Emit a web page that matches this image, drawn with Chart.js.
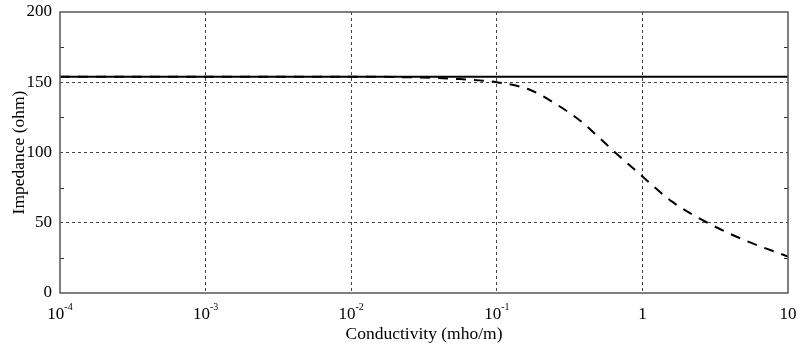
<!DOCTYPE html>
<html>
<head>
<meta charset="utf-8">
<script src="https://cdn.jsdelivr.net/npm/chart.js@4"></script>
<style>
  html, body { margin: 0; padding: 0; background: #fff; }
  #wrap { width: 798px; height: 349px; }
</style>
</head>
<body>
<div id="wrap"><canvas id="impChart" width="798" height="349"></canvas></div>
<script>
// data
const xTicks = [1e-4, 1e-3, 1e-2, 1e-1, 1, 10];
const xTickBase = ['10', '10', '10', '10', '1', '10'];
const xTickExp = ['-4', '-3', '-2', '-1', '', ''];
const yMajorTicks = [0, 50, 100, 150, 200];
const yMinorTicks = [25, 75, 125, 175];

const conductivity = [1e-4, 1e-3, 1e-2, 0.02, 0.05, 0.1, 0.17, 0.25, 0.37, 0.5, 0.65, 1, 1.6, 2.8, 5.2, 10];
const impedanceDashed = [154, 154, 154, 153.7, 152.5, 150, 144.5, 135, 123, 111, 100, 83, 65, 50, 37, 26];
const solidX = [1e-4, 10];
const solidY = [154, 154];

const FONT = 'Liberation Serif, Times New Roman, serif';

const framePlugin = {
    id: 'frame',
    afterDraw(chart) {
        const c = chart.ctx;
        const a = chart.chartArea;
        const xs = chart.scales.x, ys = chart.scales.y;
        c.save();
        // minor y tick marks, inside on both sides
        c.strokeStyle = '#333';
        c.lineWidth = 1;
        yMinorTicks.forEach(v => {
            const y = Math.round(ys.getPixelForValue(v)) + 0.5;
            c.beginPath();
            c.moveTo(a.left, y); c.lineTo(a.left + 4, y);
            c.moveTo(a.right, y); c.lineTo(a.right - 4, y);
            c.stroke();
        });
        // frame
        c.strokeStyle = '#555';
        c.lineWidth = 1.5;
        c.strokeRect(a.left, a.top, a.right - a.left, a.bottom - a.top);
        // x tick labels with superscripts
        c.fillStyle = '#000';
        c.textBaseline = 'alphabetic';
        xTicks.forEach((v, i) => {
            const x = xs.getPixelForValue(v);
            const base = xTickBase[i], exp = xTickExp[i];
            c.font = '17px ' + FONT;
            const wb = c.measureText(base).width;
            c.font = '10px ' + FONT;
            const we = exp ? c.measureText(exp).width : 0;
            let x0 = x - (wb + we) / 2;
            if (i === xTicks.length - 1) x0 = Math.min(x0, 798 - wb - 1);
            c.font = '17px ' + FONT;
            c.textAlign = 'left';
            c.fillText(base, x0, a.bottom + 26);
            if (exp) {
                c.font = '10px ' + FONT;
                c.fillText(exp, x0 + wb, a.bottom + 17);
            }
        });
        c.restore();
    }
};

const ctx = document.getElementById('impChart').getContext('2d');
new Chart(ctx, {
    type: 'line',
    data: {
        datasets: [
            {
                label: 'solid',
                data: solidX.map((x, i) => ({ x, y: solidY[i] })),
                borderColor: '#000',
                borderWidth: 2,
                pointRadius: 0,
                fill: false
            },
            {
                label: 'dashed',
                data: conductivity.map((x, i) => ({ x, y: impedanceDashed[i] })),
                borderColor: '#000',
                borderWidth: 2,
                borderDash: [10, 8],
                pointRadius: 0,
                cubicInterpolationMode: 'monotone',
                fill: false
            }
        ]
    },
    options: {
        responsive: false,
        animation: false,
        layout: { padding: { top: 12, right: 10, left: 0, bottom: 0 } },
        plugins: { legend: { display: false }, tooltip: { enabled: false } },
        scales: {
            x: {
                type: 'logarithmic',
                min: 1e-4,
                max: 10,
                afterBuildTicks: s => { s.ticks = xTicks.map(v => ({ value: v })); },
                afterFit: s => { s.height = 56; },
                ticks: { display: false },
                grid: {
                    color: c => (c.tick && c.tick.value > 1e-4 && c.tick.value < 10) ? '#444' : 'rgba(0,0,0,0)',
                    lineWidth: 1,
                    drawTicks: false
                },
                border: { display: false, dash: [3, 3] },
                title: {
                    display: true,
                    text: 'Conductivity (mho/m)',
                    color: '#000',
                    font: { size: 17.5, family: FONT },
                    padding: { top: 3, bottom: 4 }
                }
            },
            y: {
                min: 0,
                max: 200,
                afterBuildTicks: s => { s.ticks = yMajorTicks.map(v => ({ value: v })); },
                afterFit: s => { s.width = 60; s.paddingTop = 0; s.paddingBottom = 0; },
                ticks: { color: '#000', font: { size: 17, family: FONT }, padding: 8 },
                grid: {
                    color: c => (c.tick && c.tick.value > 0 && c.tick.value < 200) ? '#444' : 'rgba(0,0,0,0)',
                    lineWidth: 1,
                    drawTicks: false
                },
                border: { display: false, dash: [3, 3] },
                title: {
                    display: true,
                    text: 'Impedance (ohm)',
                    color: '#000',
                    font: { size: 17.5, family: FONT },
                    padding: { top: 9, bottom: 0 }
                }
            }
        }
    },
    plugins: [framePlugin]
});
</script>
</body>
</html>
